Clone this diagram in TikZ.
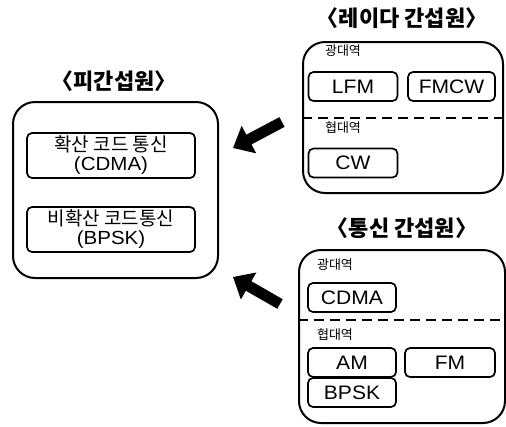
\documentclass[tikz,border=0pt]{standalone}
\usepackage{fontspec}
\setmainfont{Liberation Sans}[FakeStretch=1.08]
\newfontfamily\kr{Noto Sans CJK KR}
\newfontfamily\krh{Noto Sans CJK KR}[RawFeature=+halt]
\usetikzlibrary{arrows.meta}
\tikzset{
  outerbox/.style={draw, line width=2pt, rounded corners=22pt, inner sep=0pt},
  innerbox/.style={draw, line width=1.7pt, rounded corners=5pt, inner sep=0pt, align=center},
  sigbox/.style={innerbox, minimum width=89pt, minimum height=29pt, font=\fontsize{19.5}{21}\selectfont},
  victext/.style={innerbox, minimum width=168pt, minimum height=45pt, font=\fontsize{19}{21}\selectfont},
  titletext/.style={font=\krh\bfseries\fontsize{22}{26}\selectfont, inner sep=0pt},
  bandtext/.style={font=\kr\fontsize{13}{15}\selectfont, inner sep=0pt},
  divider/.style={line width=2pt, dash pattern=on 10pt off 6pt},
  bigarrow/.style={line width=11pt, -{Triangle[width=30pt,length=18pt]}}
}
\begin{document}
\begin{tikzpicture}[x=1pt,y=-1pt]
\useasboundingbox (0,0) rectangle (506,426);

% victim
\node[titletext] (vtitle) at (114,81) {〈피간섭원〉};
\node[outerbox, minimum width=205pt, minimum height=176pt] (victim) at (115.5,190) {};
\node[victext] (v1) at (111,155.5) {\raisebox{-2pt}{\kr 확산 코드 통신}\\(CDMA)};
\node[victext] (v2) at (111,229.5) {\raisebox{-2pt}{\kr 비확산 코드통신}\\(BPSK)};

% radar
\node[titletext] (rtitle) at (402,18) {〈레이다 간섭원〉};
\node[outerbox, minimum width=200pt, minimum height=151pt] (radar) at (403,117.5) {};
\draw[divider] (radar.west) -- (radar.east);
\node[bandtext] (rwide) at (343,51) {광대역};
\node[sigbox] (lfm) at (353,86.5) {LFM};
\node[sigbox, minimum width=87pt] (fmcw) at (451.5,86.5) {FMCW};
\node[bandtext] (rnarrow) at (343,128) {협대역};
\node[sigbox] (cw) at (353,163) {CW};

% comms
\node[titletext] (ctitle) at (402,228) {〈통신 간섭원〉};
\node[outerbox, minimum width=206pt, minimum height=173pt] (comms) at (402,336.5) {};
\draw[divider] ([yshift=16.5pt]comms.west) -- ([yshift=16.5pt]comms.east);
\node[bandtext] (cwide) at (335,265) {광대역};
\node[sigbox, minimum width=88pt] (cdma) at (352,297.5) {CDMA};
\node[bandtext] (cnarrow) at (335,335) {협대역};
\node[sigbox, minimum width=88pt] (am) at (352,362.5) {AM};
\node[sigbox, minimum width=90pt] (fm) at (450,362.5) {FM};
\node[sigbox, minimum width=88pt] (bpsk) at (352,392.5) {BPSK};

% arrows
\coordinate (a1s) at (282,122);
\coordinate (a1e) at (233,148);
\coordinate (a2s) at (280,304);
\coordinate (a2e) at (233,277);
\draw[bigarrow] (a1s) -- (a1e);
\draw[bigarrow] (a2s) -- (a2e);
\end{tikzpicture}
\end{document}
